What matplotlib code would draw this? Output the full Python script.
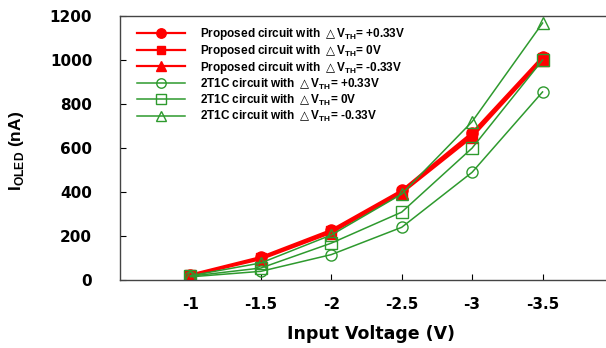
import matplotlib.pyplot as plt

plt.rcParams['font.family'] = ['Liberation Sans', 'DejaVu Sans']

# === DADOS ===
voltage = [-1, -1.5, -2, -2.5, -3, -3.5]
prop_p033 = [25, 105, 228, 408, 670, 1015]
prop_0 = [22, 100, 222, 400, 660, 1008]
prop_m033 = [20, 95, 215, 395, 650, 1000]
t2c_p033 = [15, 40, 116, 240, 490, 855]
t2c_0 = [18, 55, 168, 309, 600, 1000]
t2c_m033 = [20, 78, 205, 391, 720, 1168]

delta = "$\\triangle$V$_{\\mathregular{TH}}$"
labels = [
    "Proposed circuit with " + delta + "= +0.33V",
    "Proposed circuit with " + delta + "= 0V",
    "Proposed circuit with " + delta + "= -0.33V",
    "2T1C circuit with " + delta + "= +0.33V",
    "2T1C circuit with " + delta + "= 0V",
    "2T1C circuit with " + delta + "= -0.33V",
]

RED = "#ff0000"
GREEN = "#2e9a2e"

# === PLOT ===
fig = plt.figure(figsize=(6.06, 3.48), dpi=100)
ax = fig.add_axes([0.198, 0.195, 0.8135, 0.759])

ax.plot(voltage, prop_p033, color=RED, lw=1.6, marker='o', ms=8, label=labels[0])
ax.plot(voltage, prop_0, color=RED, lw=1.6, marker='s', ms=7.5, label=labels[1])
ax.plot(voltage, prop_m033, color=RED, lw=1.6, marker='^', ms=8, label=labels[2])
ax.plot(voltage, t2c_p033, color=GREEN, lw=1.1, marker='o', ms=8, mfc='none', label=labels[3])
ax.plot(voltage, t2c_0, color=GREEN, lw=1.1, marker='s', ms=8, mfc='none', label=labels[4])
ax.plot(voltage, t2c_m033, color=GREEN, lw=1.1, marker='^', ms=9, mfc='none', label=labels[5])

# === ESTILO ===
ax.set_xlim(-0.5, -4)
ax.set_ylim(0, 1200)
ax.set_xticks(voltage)
ax.set_xticklabels(["-1", "-1.5", "-2", "-2.5", "-3", "-3.5"])
ax.set_yticks(range(0, 1201, 200))
ax.tick_params(direction='in', length=4)
for lab in ax.get_xticklabels() + ax.get_yticklabels():
    lab.set_fontweight('bold')
    lab.set_fontfamily('DejaVu Sans')
    lab.set_fontsize(11)
ax.tick_params(axis='x', pad=12)
ax.tick_params(axis='y', pad=20)

# a imagem original corta o lado direito do gráfico
ax.spines['right'].set_visible(False)
for sp in ax.spines.values():
    sp.set_color('#444444')
    sp.set_linewidth(1.0)

ax.set_xlabel("Input Voltage (V)", fontsize=12.5, fontweight='bold', family='DejaVu Sans')
ax.set_ylabel("I$_{\\mathregular{OLED}}$ (nA)", fontsize=12.5, fontweight='bold')
ax.xaxis.set_label_coords(0.51, -0.168)
ax.yaxis.set_label_coords(-0.19, 0.49)

leg = ax.legend(loc='upper left', bbox_to_anchor=(0.02, 0.99), frameon=False,
                prop={'size': 8.5, 'weight': 'bold'}, handlelength=4.1,
                labelspacing=0.08, handletextpad=1.25, borderaxespad=0.2,
                markerscale=0.85)

plt.savefig("out.png", dpi=100)
